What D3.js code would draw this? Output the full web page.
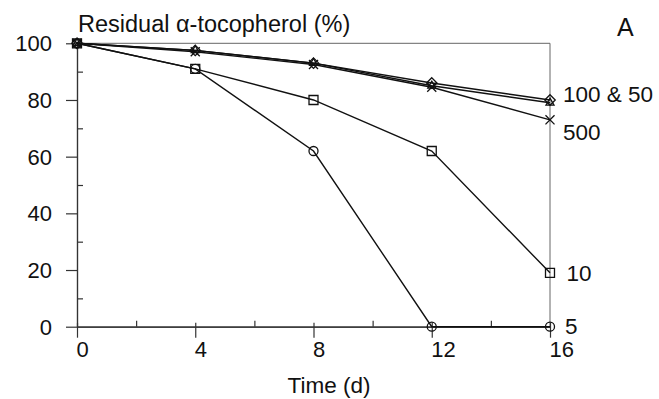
<!DOCTYPE html>
<html>
<head>
<meta charset="utf-8">
<script src="https://cdn.jsdelivr.net/npm/d3@7"></script>
<style>
  body { margin: 0; background: #fff; }
  svg text { font-family: "Liberation Sans", Arial, sans-serif; fill: #111; }
</style>
</head>
<body>
<svg id="chart" width="659" height="399"></svg>
<script>
// DATA
var days = [0, 4, 8, 12, 16];
var conc5 = [100, 91, 62, 0, 0];            // circles
var conc10 = [100, 91, 80, 62, 19];         // squares
var conc100 = [100, 97.5, 93, 86, 80];      // diamonds
var conc50 = [100, 97.5, 93, 85, 79];       // triangles
var conc500 = [100, 97, 92.5, 84.5, 73];    // crosses
var xMajor = [0, 4, 8, 12, 16], xMinor = [2, 6, 10, 14];
var yMajor = [0, 20, 40, 60, 80, 100], yMinor = [10, 30, 50, 70, 90];
var endLabels = [
    {text: "100 & 50", at: 80, dx: 13, dy: 2},
    {text: "500", at: 73, dx: 13, dy: 20},
    {text: "10", at: 19, dx: 16.5, dy: 8},
    {text: "5", at: 0, dx: 15, dy: 7.5}
];

var svg = d3.select("#chart");
var x = d3.scaleLinear().domain([0, 16]).range([77, 550]);
var y = d3.scaleLinear().domain([0, 100]).range([326.7, 43.3]);
var fnt = "Liberation Sans, Arial, sans-serif";

// frame (top + right), lighter grey
svg.append("path")
    .attr("d", "M" + x(0) + "," + y(100) + "H" + x(16) + "V" + y(0))
    .attr("fill", "none").attr("stroke", "#666").attr("stroke-width", 1);

// y axis: major ticks outside, minor ticks inside
var gy = svg.append("g").attr("transform", "translate(" + x(0) + ",0)")
    .call(d3.axisLeft(y).tickValues(yMajor).tickSize(11).tickSizeOuter(0).tickPadding(14));
svg.append("g").attr("transform", "translate(" + x(0) + ",0)")
    .call(d3.axisRight(y).tickValues(yMinor).tickSize(6).tickSizeOuter(0).tickFormat(""));

// x axis
var gx = svg.append("g").attr("transform", "translate(0," + y(0) + ")")
    .call(d3.axisBottom(x).tickValues(xMajor).tickSize(11).tickSizeOuter(0).tickPadding(6));
svg.append("g").attr("transform", "translate(0," + y(0) + ")")
    .call(d3.axisTop(x).tickValues(xMinor).tickSize(6).tickSizeOuter(0).tickFormat(""));
// major x ticks poke a little above the axis
gx.selectAll(".tick line").attr("y1", -4);

svg.selectAll(".domain, .tick line").attr("stroke", "#333").attr("stroke-width", 1.2);
gy.selectAll("text").attr("font-size", 22).attr("font-family", fnt).attr("dy", "0.34em");
gx.selectAll("text").attr("font-size", 22).attr("font-family", fnt)
    .attr("text-anchor", "start").attr("dx", -1).attr("dy", "0.6em");

// series
var series = [
    {vals: conc5, sym: d3.symbolCircle, size: 64},
    {vals: conc10, sym: d3.symbolSquare2 || d3.symbolSquare, size: 103},
    {vals: conc100, sym: d3.symbolDiamond2 || d3.symbolDiamond, size: 70},
    {vals: conc50, sym: d3.symbolTriangle2 || d3.symbolTriangle, size: 46},
    {vals: conc500, sym: d3.symbolTimes || d3.symbolCross, size: 55}
];

var line = d3.line().x(function (d, i) { return x(days[i]); }).y(function (d) { return y(d); });

series.forEach(function (s) {
    svg.append("path")
        .attr("d", line(s.vals))
        .attr("fill", "none").attr("stroke", "#111").attr("stroke-width", 1.4);
});
series.forEach(function (s) {
    svg.append("g").selectAll("path")
        .data(s.vals).enter().append("path")
        .attr("transform", function (d, i) { return "translate(" + x(days[i]) + "," + y(d) + ")"; })
        .attr("d", d3.symbol().type(s.sym).size(s.size))
        .attr("fill", "none").attr("stroke", "#111").attr("stroke-width", 1.3);
});

// texts
svg.append("text").attr("x", 78).attr("y", 32).attr("font-size", 23.5)
    .text("Residual α-tocopherol (%)");
svg.append("text").attr("x", 617).attr("y", 36).attr("font-size", 25).text("A");
svg.append("text").attr("x", 329).attr("y", 393).attr("font-size", 22.5)
    .attr("text-anchor", "middle").text("Time (d)");

svg.selectAll(".endlabel").data(endLabels).enter().append("text")
    .attr("x", function (d) { return x(16) + d.dx; })
    .attr("y", function (d) { return y(d.at) + d.dy; })
    .attr("font-size", 22.5)
    .text(function (d) { return d.text; });
</script>
</body>
</html>
